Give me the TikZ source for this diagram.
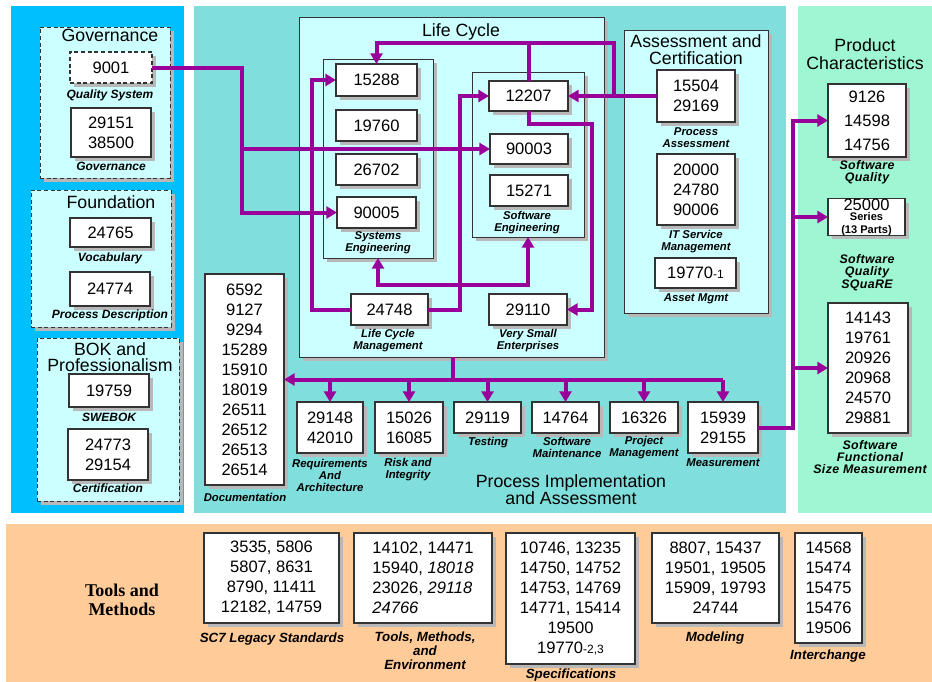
\documentclass[tikz,border=0pt]{standalone}
\usepackage{fontspec}
\setmainfont{Liberation Sans}
\newfontfamily\seriffam{Liberation Serif}
\usetikzlibrary{arrows.meta,shadows,backgrounds}

\definecolor{skyb}{HTML}{00BFFF}
\definecolor{tealpc}{HTML}{80DEDC}
\definecolor{greenpc}{HTML}{9EF7D2}
\definecolor{orangepc}{HTML}{FFCC99}
\definecolor{lcyan}{HTML}{CCFFFF}
\definecolor{purp}{HTML}{990099}
\definecolor{bord}{HTML}{333333}

\newcommand\numf{\fontsize{12.4}{15}\selectfont}
\newcommand\lblf{\fontsize{8.5}{9}\selectfont\bfseries\itshape}
\newcommand\lblLf{\fontsize{9}{9.5}\selectfont\bfseries\itshape}
\newcommand\lblPf{\fontsize{9.3}{9.2}\selectfont\bfseries\itshape\addfontfeature{LetterSpace=3}}
\newcommand\lblBf{\fontsize{10}{10.5}\selectfont\bfseries\itshape}
\newcommand\ttlf{\fontsize{13.3}{12}\selectfont}
\newcommand\smallnumf{\fontsize{8.3}{8.5}\selectfont\bfseries}
\newcommand\bx[7]{\node[#6, minimum width={(#4-#2)*0.75pt}, minimum height={(#5-#3)*0.75pt}] (#1) at ({(#2+#4)/2},{(#3+#5)/2}) {#7};}

\tikzset{
  shad/.style={drop shadow={shadow xshift=3pt, shadow yshift=-3pt, fill=black!28, opacity=1}},
  box/.style={draw=bord, line width=0.8pt, fill=white, inner sep=0pt, outer sep=0pt, align=center, font=\numf, shad},
  dbox/.style={box, dash pattern=on 3pt off 2pt},
  flat/.style={draw=none, inner sep=0pt, outer sep=0pt},
  spanel/.style={draw=bord, line width=0.6pt, fill=lcyan, inner sep=0pt, outer sep=0pt, shad},
  dpanel/.style={spanel, dash pattern=on 3pt off 2pt},
  lbl/.style={font=\lblf, align=center, inner sep=0pt},
  lblL/.style={lbl, font=\lblLf},
  lblP/.style={lbl, font=\lblPf},
  lblB/.style={lbl, font=\lblBf},
  ttl/.style={font=\ttlf, align=center, inner sep=0pt},
  pline/.style={draw=purp, line width=3pt},
  arr/.style={pline, -{Triangle[length=8pt,width=9pt]}},
}

\begin{document}
\begin{tikzpicture}[x=0.75pt,y=-0.75pt]
\useasboundingbox (0,0) rectangle (932,682);

\begin{pgfonlayer}{background}
\fill[white] (0,0) rectangle (932,682);
\bx{bluep}{11}{6}{184}{513}{flat, fill=skyb}{}
\bx{tealp}{194}{6}{786}{513}{flat, fill=tealpc}{}
\bx{greenp}{798}{6}{932}{513}{flat, fill=greenpc}{}
\bx{orangep}{6}{524}{932}{682}{flat, fill=orangepc}{}
\bx{govp}{40}{27}{170}{178}{dpanel}{}
\bx{foundp}{31}{190}{171}{327}{dpanel}{}
\bx{bokp}{37}{338}{179}{501}{dpanel}{}
\bx{lcp}{299}{17}{604}{357}{spanel}{}
\bx{sep}{323}{59}{433}{258}{spanel}{}
\bx{swep}{472}{72}{584}{237}{spanel}{}
\bx{acp}{624}{30}{768}{313}{spanel}{}
\end{pgfonlayer}

% ---- titles
\node[ttl] (tgov) at (110,35) {Governance};
\node[ttl] (tfound) at (111,202) {Foundation};
\node[ttl] (tbok) at (110,357) {BOK and\\Professionalism};
\node[ttl] (tlc) at (461,32) {Life Cycle};
\node[ttl, font=\fontsize{13.3}{12.6}\selectfont] (tac) at (696,50) {Assessment and\\Certification};
\node[ttl, font=\fontsize{13.3}{13.5}\selectfont] (tpc) at (865,54) {Product\\Characteristics};
\node[ttl, font=\fontsize{13.3}{12.6}\selectfont] (tpia) at (571,490) {Process Implementation\\and Assessment};
\node[align=center, inner sep=0pt, font=\fontsize{13.5}{14.3}\selectfont\seriffam\bfseries] (ttm) at (122,600) {Tools and\\Methods};

% ---- left column
\bx{b9001}{70}{52}{152}{83}{dbox}{9001}
\node[lblL] (l9001) at (110,95) {Quality System};
\bx{b29151}{71}{108}{151}{157}{box}{29151\\38500}
\node[lblL] (lgov) at (111,166) {Governance};
\bx{b24765}{70}{218}{151}{247}{box}{24765}
\node[lblL] (lvoc) at (110,258) {Vocabulary};
\bx{b24774}{70}{272}{150}{306}{box}{24774}
\node[lblL] (lpd) at (110,315) {Process Description};
\bx{b19759}{69}{374}{149}{407}{box}{19759}
\node[lblL] (lswebok) at (109,417) {SWEBOK};
\bx{b24773}{68}{429}{148}{480}{box}{24773\\29154}
\node[lblL] (lcert) at (108,488) {Certification};

% ---- life cycle
\bx{b15288}{336}{64}{417}{96}{box}{15288}
\bx{b19760}{336}{110}{417}{141}{box}{19760}
\bx{b26702}{336}{154}{417}{185}{box}{26702}
\bx{b90005}{337}{197}{416}{228}{box}{90005}
\node[lbl] (lse) at (378,243) {Systems\\Engineering};
\bx{b12207}{489}{81}{568}{111}{box}{12207}
\bx{b90003}{490}{134}{568}{164}{box}{90003}
\bx{b15271}{490}{175}{568}{206}{box}{15271}
\node[lbl] (lswe) at (527,222.5) {Software\\Engineering};
\bx{b24748}{351}{294}{428}{325}{box}{24748}
\node[lbl] (llcm) at (388,341) {Life Cycle\\Management};
\bx{b29110}{489}{294}{567}{325}{box}{29110}
\node[lbl] (lvse) at (528,341) {Very Small\\Enterprises};

% ---- assessment
\bx{b15504}{657}{70}{735}{122}{box}{15504\\29169}
\node[lbl] (lpa) at (696,137.5) {Process\\Assessment};
\bx{b20000}{657}{154}{735}{225}{box}{20000\\24780\\90006}
\node[lbl] (lits) at (696,241.5) {IT Service\\Management};
\bx{b19770}{655}{258}{736}{288}{box}{19770{\fontsize{9}{9}\selectfont -1}}
\node[lbl] (lasset) at (696,299) {Asset Mgmt};

% ---- product characteristics
\bx{b9126}{828}{84}{906}{157}{box, font=\fontsize{12.4}{18}\selectfont}{9126\\14598\\14756}
\node[lblP] (lsq) at (867,172.5) {Software\\Quality};
\bx{b25000}{828}{199}{905}{235}{box}{\shortstack{25000\\[-1pt]\smallnumf Series\\\smallnumf (13 Parts)}}
\node[lblP] (lsquare) at (867,272.5) {Software\\Quality\\SQuaRE};
\bx{b14143}{828}{303}{908}{433}{box}{14143\\19761\\20926\\20968\\24570\\29881}
\node[lblP] (lfsm) at (870,457) {Software\\Functional\\Size Measurement};

% ---- process implementation
\bx{bdoc}{205}{274}{284}{485}{box}{6592\\9127\\9294\\15289\\15910\\18019\\26511\\26512\\26513\\26514}
\node[lbl] (ldoc) at (245,497) {Documentation};
\bx{b29148}{297}{402}{363}{453}{box}{29148\\42010}
\node[lbl] (lreq) at (330,475) {Requirements\\And\\Architecture};
\bx{b15026}{375}{402}{443}{453}{box}{15026\\16085}
\node[lbl] (lrisk) at (408,470) {Risk and\\Integrity};
\bx{b29119}{454}{402}{521}{433}{box}{29119}
\node[lbl] (ltest) at (488,443) {Testing};
\bx{b14764}{532}{402}{599}{433}{box}{14764}
\node[lbl] (lmaint) at (567,447.5) {Software\\Maintenance};
\bx{b16326}{610}{402}{678}{433}{box}{16326}
\node[lbl] (lpm) at (644,447.5) {Project\\Management};
\bx{b15939}{688}{402}{758}{453}{box}{15939\\29155}
\node[lbl] (lmeas) at (723,463) {Measurement};

% ---- tools and methods
\bx{b3535}{204}{533}{339}{623}{box}{3535, 5806\\5807, 8631\\8790, 11411\\12182, 14759}
\node[lblB] (lsc7) at (272,639) {SC7 Legacy Standards};
\bx{b14102}{354}{533}{492}{623}{box, align=left}{14102, 14471\\15940, \textit{18018}\\23026, \textit{29118}\\\textit{24766}}
\node[lblB] (ltme) at (425,651) {Tools, Methods,\\and\\Environment};
\bx{b10746}{506}{533}{635}{664}{box}{10746, 13235\\14750, 14752\\14753, 14769\\14771, 15414\\19500\\19770{\fontsize{9}{9}\selectfont -2,3}}
\node[lblB] (lspec) at (571,675) {Specifications};
\bx{b8807}{652}{533}{779}{623}{box}{8807, 15437\\19501, 19505\\15909, 19793\\24744}
\node[lblB] (lmod) at (715,638) {Modeling};
\bx{b14568}{795}{533}{862}{643}{box}{14568\\15474\\15475\\15476\\19506}
\node[lblB] (linter) at (828,656) {Interchange};

% ---- connectors
\coordinate (x242) at (242,0);
\coordinate (x312) at (312,0);
\coordinate (x460) at (460,0);
\coordinate (jac) at (614,96);
\coordinate (jtop) at (614,43);
\coordinate (j592) at (592,124);
\coordinate (jmid) at (450,285);
\coordinate (jbus) at (453,379.5);
\coordinate (x793) at (793,0);

\draw[arr] (b9001.east) -- (b9001.east -| x242) |- (b90005.west);
\draw[arr] (b90003.west -| x242) -- (b90003.west);

\draw[arr] (b15504.west) -- (b12207.east);
\draw[arr] (jac) -- (jtop) -| (b15288.north);
\draw[pline] (b12207.north) -- (b12207.north |- jtop);
\draw[arr] (b12207.south) |- (j592) |- (b29110.east);

\draw[arr] (b24748.west) -- (b24748.west -| x312) |- (b15288.west);
\draw[arr] (b24748.east) -- (b24748.east -| x460) |- (b12207.west);
\draw[pline, {Triangle[length=8pt,width=9pt]}-{Triangle[length=8pt,width=9pt]}] (lse.south |- sep.south) |- (jmid) -| (swep.south);

\draw[pline] (lcp.south -| jbus) -- (jbus);
\draw[arr] (b15939.north |- jbus) -- (bdoc.east);
\foreach \n in {b29148,b15026,b29119,b14764,b16326,b15939}
  \draw[arr] (\n.north |- jbus) -- (\n.north);

\draw[arr] (b15939.east) -- (b15939.east -| x793) |- (b9126.west);
\draw[arr] (b25000.west -| x793) -- (b25000.west);
\draw[arr] (b14143.west -| x793) -- (b14143.west);
\end{tikzpicture}
\end{document}
